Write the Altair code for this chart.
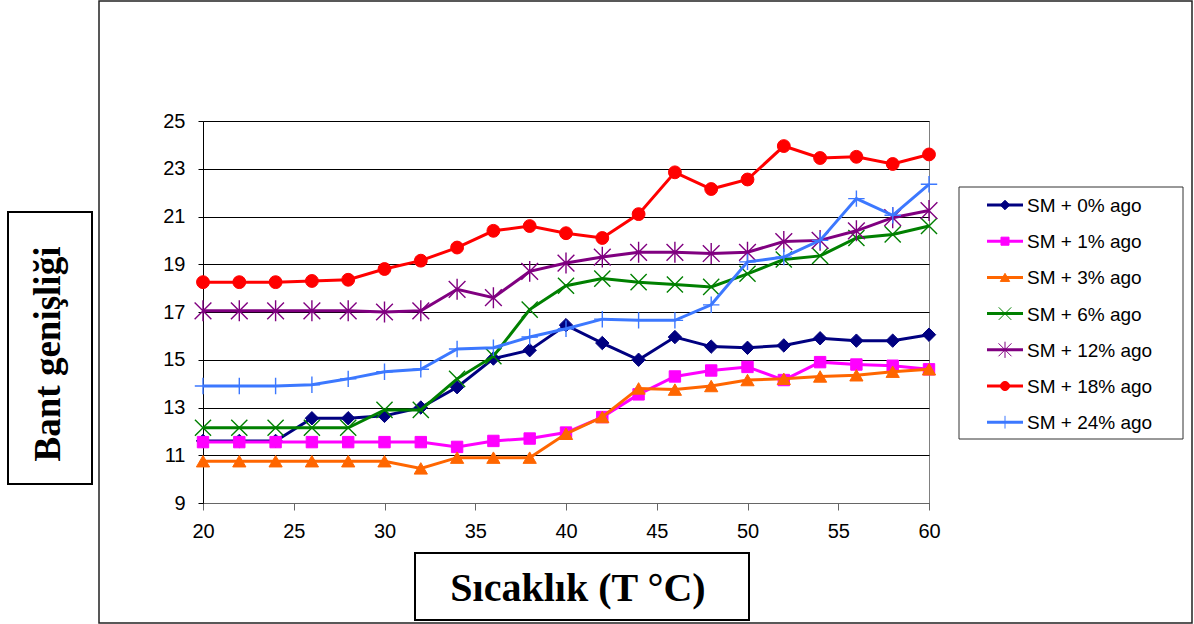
import altair as alt
import pandas as pd

# Temperature points (°C)
temperature = list(range(20, 61, 2))

series_names = [
    "SM + 0% ago",
    "SM + 1% ago",
    "SM + 3% ago",
    "SM + 6% ago",
    "SM + 12% ago",
    "SM + 18% ago",
    "SM + 24% ago",
]

sm_0 = [11.6, 11.6, 11.6, 12.55, 12.55, 12.65, 13.0, 13.85, 15.05, 15.4, 16.45,
        15.7, 15.0, 15.95, 15.55, 15.5, 15.6, 15.9, 15.8, 15.8, 16.05]
sm_1 = [11.55, 11.55, 11.55, 11.55, 11.55, 11.55, 11.55, 11.35, 11.6, 11.7, 11.95,
        12.6, 13.55, 14.3, 14.55, 14.7, 14.15, 14.9, 14.8, 14.75, 14.6]
sm_3 = [10.75, 10.75, 10.75, 10.75, 10.75, 10.75, 10.45, 10.9, 10.9, 10.9, 11.9,
        12.6, 13.8, 13.75, 13.9, 14.15, 14.2, 14.3, 14.35, 14.5, 14.6]
sm_6 = [12.15, 12.15, 12.15, 12.15, 12.15, 12.9, 12.9, 14.2, 15.15, 17.1, 18.1,
        18.4, 18.25, 18.15, 18.05, 18.6, 19.2, 19.35, 20.1, 20.25, 20.6]
sm_12 = [17.05, 17.05, 17.05, 17.05, 17.05, 17.0, 17.05, 17.95, 17.6, 18.7, 19.05,
         19.3, 19.5, 19.5, 19.45, 19.5, 19.95, 20.0, 20.4, 20.95, 21.25]
sm_18 = [18.25, 18.25, 18.25, 18.3, 18.35, 18.8, 19.15, 19.7, 20.4, 20.6, 20.3,
         20.1, 21.1, 22.85, 22.15, 22.55, 23.95, 23.45, 23.5, 23.2, 23.6]
sm_24 = [13.9, 13.9, 13.9, 13.95, 14.2, 14.5, 14.6, 15.45, 15.5, 15.95, 16.3,
         16.7, 16.65, 16.65, 17.3, 19.1, 19.3, 20.0, 21.75, 21.05, 22.35]

series_values = [sm_0, sm_1, sm_3, sm_6, sm_12, sm_18, sm_24]

x_ticks = [20, 25, 30, 35, 40, 45, 50, 55, 60]
y_ticks = [9, 11, 13, 15, 17, 19, 21, 23, 25]

# Styling per series: colour, marker shape, marker size, filled marker
X_PATH = "M-1,-1L1,1M-1,1L1,-1"
STAR_PATH = "M-1,-1L1,1M-1,1L1,-1M0,-1.25L0,1.25"
PLUS_PATH = "M-1,0L1,0M0,-1L0,1"
styles = [
    ("#000080", "diamond", 180, True),
    ("#FF00FF", "square", 130, True),
    ("#FF6600", "triangle-up", 175, True),
    ("#008000", X_PATH, 260, False),
    ("#800080", STAR_PATH, 280, False),
    ("#FF0000", "circle", 165, True),
    ("#3C78FF", PLUS_PATH, 270, False),
]

rows = []
for name, vals in zip(series_names, series_values):
    for t, v in zip(temperature, vals):
        rows.append({"series": name, "T": t, "bw": v})
df = pd.DataFrame(rows)

PLOT_W, PLOT_H = 726, 382
LABEL_FONT = "Liberation Sans"
TITLE_FONT = "Liberation Serif"

x_enc = alt.X(
    "T:Q",
    scale=alt.Scale(domain=[20, 60], nice=False, zero=False),
    axis=alt.Axis(
        values=x_ticks, title=None, grid=False,
        domainColor="#666", tickColor="#666", tickSize=7,
        labelFont=LABEL_FONT, labelFontSize=20, labelColor="#000",
        labelPadding=11, labelFlush=False,
    ),
)
y_enc = alt.Y(
    "bw:Q",
    scale=alt.Scale(domain=[9, 25], nice=False, zero=False),
    axis=alt.Axis(
        values=y_ticks, title=None, grid=True, gridColor="#000", gridWidth=1,
        domainColor="#000", tickColor="#000", tickSize=5,
        labelFont=LABEL_FONT, labelFontSize=20, labelColor="#000",
        labelPadding=13, labelFlush=False,
    ),
)

one = pd.DataFrame({"k": [0]})

# Outer chart frame
frame = alt.Chart(one).mark_rect(fillOpacity=0, stroke="#222", strokeWidth=1.5).encode(
    x=alt.value(-104), x2=alt.value(989), y=alt.value(-120), y2=alt.value(502)
)

layers = [frame]

for name, (color, shape, size, filled) in zip(series_names, styles):
    base = alt.Chart(df).transform_filter(alt.datum.series == name)
    layers.append(base.mark_line(color=color, strokeWidth=3).encode(x=x_enc, y=y_enc))
    if filled:
        pt = base.mark_point(shape=shape, size=size, filled=True, fill=color,
                             stroke=color, strokeWidth=1, opacity=1)
    else:
        pt = base.mark_point(shape=shape, size=size, filled=False,
                             stroke=color, strokeWidth=1.4, opacity=1)
    layers.append(pt.encode(x=x_enc, y=y_enc))

# Axis title boxes
y_box = alt.Chart(one).mark_rect(fill="white", stroke="#000", strokeWidth=2).encode(
    x=alt.value(-195), x2=alt.value(-111), y=alt.value(91), y2=alt.value(363)
)
y_title = alt.Chart(one).mark_text(
    text="Bant genişliği", angle=270, font=TITLE_FONT, fontWeight="bold",
    fontSize=37, align="center", baseline="middle", color="#000"
).encode(x=alt.value(-154), y=alt.value(233))

x_box = alt.Chart(one).mark_rect(fill="white", stroke="#000", strokeWidth=2).encode(
    x=alt.value(212), x2=alt.value(546), y=alt.value(432), y2=alt.value(499)
)
x_title = alt.Chart(one).mark_text(
    text="Sıcaklık (T °C)", font=TITLE_FONT, fontWeight="bold",
    fontSize=40, align="center", baseline="middle", color="#000"
).encode(x=alt.value(375), y=alt.value(468))

layers += [y_box, y_title, x_box, x_title]

# Legend panel
legend_box = alt.Chart(one).mark_rect(fill="white", stroke="#333", strokeWidth=1).encode(
    x=alt.value(756), x2=alt.value(980), y=alt.value(66), y2=alt.value(318)
)
layers.append(legend_box)

LEG_TOP, LEG_STEP = 84, 36.2
for i, (name, (color, shape, size, filled)) in enumerate(zip(series_names, styles)):
    ly = LEG_TOP + i * LEG_STEP
    layers.append(alt.Chart(one).mark_rule(color=color, strokeWidth=3).encode(
        x=alt.value(784), x2=alt.value(820), y=alt.value(ly)))
    if filled:
        lp = alt.Chart(one).mark_point(shape=shape, size=size * 0.5, filled=True,
                                       fill=color, stroke=color, strokeWidth=1, opacity=1)
    else:
        lp = alt.Chart(one).mark_point(shape=shape, size=size * 0.6, filled=False,
                                       stroke=color, strokeWidth=1, opacity=1)
    layers.append(lp.encode(x=alt.value(802), y=alt.value(ly)))
    layers.append(alt.Chart(one).mark_text(
        text=name, font=LABEL_FONT, fontSize=19, align="left", baseline="middle",
        color="#000").encode(x=alt.value(824), y=alt.value(ly + 1)))

chart = alt.layer(*layers).properties(
    width=PLOT_W,
    height=PLOT_H,
    autosize=alt.AutoSizeParams(type="none"),
    padding={"left": 203, "top": 121, "right": 265, "bottom": 121},
    background="white",
).configure_view(stroke="#808080", strokeWidth=1)

chart.save("out.html", embed_options={"renderer": "svg", "actions": False})
